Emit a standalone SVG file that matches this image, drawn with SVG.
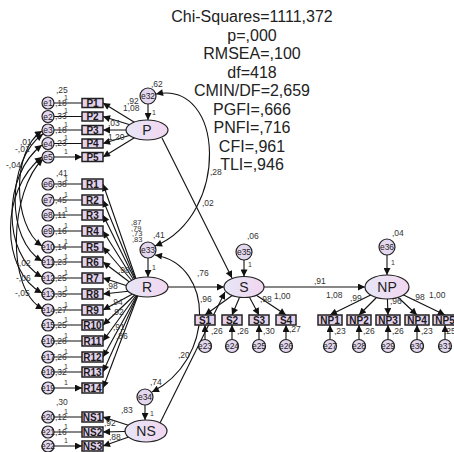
<svg xmlns="http://www.w3.org/2000/svg" width="454" height="452" viewBox="0 0 454 452">
<defs>
<linearGradient id="lg" x1="0" y1="0" x2="1" y2="0"><stop offset="0" stop-color="#e6e6f6"/><stop offset="1" stop-color="#f2d6f0"/></linearGradient>
<marker id="ah" viewBox="0 0 10 10" refX="10" refY="5" markerWidth="9" markerHeight="7" markerUnits="userSpaceOnUse" orient="auto-start-reverse"><path d="M0,0 L10,5 L0,10 z" fill="#111"/></marker>
</defs>
<style>
text{font-family:"Liberation Sans",Arial,sans-serif}
.t{font-size:16px;text-anchor:middle;fill:#222}
.lb{font-size:8.5px;fill:#333}
.sm{font-size:7.5px}
.bx{fill:#e4d2ec;stroke:#222;stroke-width:1.5}
.bt{font-size:10px;font-weight:bold;text-anchor:middle;fill:#1a1a1a}
.ec{fill:#e4d8f0;stroke:#222;stroke-width:1.2}
.et{font-size:8.5px;text-anchor:middle;fill:#222}
.lv{fill:url(#lg);stroke:#222;stroke-width:1.2}
.lt{font-size:14px;text-anchor:middle;fill:#222}
.c{stroke:#111;stroke-width:1.1;fill:none}
.a{marker-end:url(#ah)}
.d{marker-start:url(#ah);marker-end:url(#ah)}
</style>
<rect width="454" height="452" fill="#fff"/>
<g id="title">
<text class="t" x="252" y="22">Chi-Squares=1111,372</text>
<text class="t" x="252" y="40.5">p=,000</text>
<text class="t" x="252" y="59">RMSEA=,100</text>
<text class="t" x="252" y="77.5">df=418</text>
<text class="t" x="252" y="96">CMIN/DF=2,659</text>
<text class="t" x="252" y="114.5">PGFI=,666</text>
<text class="t" x="252" y="133">PNFI=,716</text>
<text class="t" x="252" y="151.5">CFI=,961</text>
<text class="t" x="252" y="170">TLI=,946</text>
</g>
<g id="connectors">
<path class="c a" d="M54,103H82M54,116.5H82M54,130H82M54,143.5H82M54,157H82"/>
<path class="c a" d="M54,184H82M54,200H82M54,215H82M54,231H82M54,247H82M54,262H82M54,278H82M54,294H82M54,310H82M54,325H82M54,341H82M54,357H82M54,372H82M54,388H82"/>
<path class="c a" d="M54,417H82M54,432H82M54,446H82"/>
<path class="c a" d="M147,130L103,103"/><path class="c a" d="M147,130L103,116.5"/><path class="c a" d="M147,130L103,130"/><path class="c a" d="M147,130L103,143.5"/><path class="c a" d="M147,130L103,157"/>
<path class="c a" d="M140,290L103,184"/><path class="c a" d="M140,290L103,200"/><path class="c a" d="M140,290L103,215"/><path class="c a" d="M140,290L103,231"/><path class="c a" d="M140,290L103,247"/><path class="c a" d="M140,290L103,262"/><path class="c a" d="M140,290L103,278"/><path class="c a" d="M140,290L103,294"/><path class="c a" d="M140,290L103,310"/><path class="c a" d="M140,290L103,325"/><path class="c a" d="M140,290L103,341"/><path class="c a" d="M140,290L103,357"/><path class="c a" d="M140,290L103,372"/><path class="c a" d="M140,290L103,388"/>
<path class="c a" d="M146,431L103,417"/><path class="c a" d="M146,431L103,432"/><path class="c a" d="M146,431L103,446"/>
<path class="c a" d="M148,104V120"/><path class="c a" d="M148,258V277"/><path class="c a" d="M145,405V420"/><path class="c a" d="M244,260V276.5"/><path class="c a" d="M387,255V275"/>
<path class="c a" d="M162,138L232,278"/>
<path class="c a" d="M168,287H224"/>
<path class="c a" d="M160,423L225,292"/>
<path class="c a" d="M264,287H365"/>
<path class="c a" d="M244,287L205,315"/><path class="c a" d="M244,287L232,315"/><path class="c a" d="M244,287L259,315"/><path class="c a" d="M244,287L286,315"/>
<path class="c a" d="M205,339.5V325"/><path class="c a" d="M232,339.5V325"/><path class="c a" d="M259,339.5V325"/><path class="c a" d="M286,339.5V325"/>
<path class="c a" d="M387,287L330,315"/><path class="c a" d="M387,287L359,315"/><path class="c a" d="M387,287L388,315"/><path class="c a" d="M387,287L417,315"/><path class="c a" d="M387,287L445,315"/>
<path class="c a" d="M330,339.5V325"/><path class="c a" d="M359,339.5V325"/><path class="c a" d="M388,339.5V325"/><path class="c a" d="M417,339.5V325"/><path class="c a" d="M445,339.5V325"/>
<path class="c d" d="M156,94C225,80 230,215 155,246"/>
<path class="c d" d="M155,255C215,265 215,360 152,392"/>
<path class="c d" d="M42,131C12,150 12,225 42,246"/>
<path class="c d" d="M43,134C6,160 6,240 42,261"/>
<path class="c d" d="M42,145C2,175 2,255 42,277"/>
<path class="c d" d="M42,157C0,190 0,270 42,293"/>
<path class="c d" d="M43,159C10,190 5,290 43,309"/>
</g>
<g id="labels" class="lb">
<text x="210" y="175">,28</text><text x="202" y="206">,02</text><text x="197" y="276">,76</text><text x="178" y="358">,20</text>
<text x="151" y="87">,62</text><text x="153" y="238">,41</text><text x="150" y="385">,74</text><text x="247" y="239">,06</text><text x="392" y="236">,04</text>
<text x="314" y="284">,91</text>
<text x="200" y="302">,96</text><text x="260" y="302">,98</text><text x="274" y="299">1,00</text>
<text x="211" y="334">,26</text><text x="237" y="334">,26</text><text x="263" y="334">,30</text><text x="289" y="332">,27</text>
<text x="326" y="298">1,08</text><text x="350" y="301">,99</text><text x="390" y="304">,96</text><text x="413" y="300">,98</text><text x="429" y="298">1,00</text>
<text x="334" y="334">,23</text><text x="363" y="334">,26</text><text x="392" y="334">,26</text><text x="421" y="334">,23</text><text x="444" y="334">,25</text>
<text x="127" y="104">,92</text><text x="123" y="111">1,08</text><text x="108" y="126">,03</text><text x="108" y="140">1,20</text>
<g class="sm"><text x="131" y="225">,87</text><text x="131" y="230.5">,79</text><text x="132" y="236">,73</text><text x="132" y="241.5">,83</text></g>
<text x="118" y="273">,98</text><text x="106" y="289">,98</text>
<text x="111" y="305">,94</text><text x="112" y="315">,92</text><text x="113" y="330">,91</text><text x="116" y="339">,86</text>
<text x="121" y="413">,83</text><text x="104" y="426">,92</text><text x="109" y="440">,88</text>
<text x="56" y="93">,25</text><text x="56" y="176">,41</text><text x="56" y="405">,30</text>
<text x="20" y="145">,01</text><text x="15" y="152">-,01</text><text x="6" y="168">-,04</text>
<text x="16" y="266">-,02</text><text x="16" y="281">-,06</text><text x="15" y="296">-,05</text>
<g font-size="7">
<text x="64" y="100">1</text><text x="64" y="113">1</text><text x="64" y="127">1</text><text x="64" y="140">1</text><text x="64" y="154">1</text>
<text x="64" y="181">1</text><text x="64" y="197">1</text><text x="64" y="212">1</text><text x="64" y="228">1</text><text x="64" y="244">1</text><text x="64" y="259">1</text><text x="64" y="275">1</text><text x="64" y="291">1</text><text x="64" y="307">1</text><text x="64" y="322">1</text><text x="64" y="338">1</text><text x="64" y="354">1</text><text x="64" y="369">1</text><text x="64" y="385">1</text>
<text x="64" y="414">1</text><text x="64" y="429">1</text><text x="64" y="443">1</text>
<text x="152" y="115">1</text><text x="152" y="270">1</text><text x="150" y="416">1</text><text x="248" y="267">1</text><text x="391" y="265">1</text>
</g>
<text x="55" y="106">,18</text><text x="55" y="119">,33</text><text x="55" y="133">,18</text><text x="55" y="146">,23</text>
<text x="55" y="187">,38</text><text x="55" y="203">,45</text><text x="55" y="218">,11</text><text x="55" y="234">,16</text><text x="55" y="250">,14</text><text x="55" y="265">,23</text><text x="55" y="281">,25</text><text x="55" y="297">,35</text><text x="55" y="313">,27</text><text x="55" y="328">,25</text><text x="55" y="344">,28</text><text x="55" y="360">,26</text><text x="55" y="375">,32</text>
<text x="55" y="420">,12</text><text x="55" y="435">,16</text>
</g>
<g id="e1"><circle class="ec" cx="48" cy="103" r="6"/><text class="et" x="48" y="106">e1</text></g>
<g id="e2"><circle class="ec" cx="48" cy="116.5" r="6"/><text class="et" x="48" y="119.5">e2</text></g>
<g id="e3"><circle class="ec" cx="48" cy="130" r="6"/><text class="et" x="48" y="133">e3</text></g>
<g id="e4"><circle class="ec" cx="48" cy="143.5" r="6"/><text class="et" x="48" y="146.5">e4</text></g>
<g id="e5"><circle class="ec" cx="48" cy="157" r="6"/><text class="et" x="48" y="160">e5</text></g>
<g id="e6"><circle class="ec" cx="48" cy="184" r="6"/><text class="et" x="48" y="187">e6</text></g>
<g id="e7"><circle class="ec" cx="48" cy="200" r="6"/><text class="et" x="48" y="203">e7</text></g>
<g id="e8"><circle class="ec" cx="48" cy="215" r="6"/><text class="et" x="48" y="218">e8</text></g>
<g id="e9"><circle class="ec" cx="48" cy="231" r="6"/><text class="et" x="48" y="234">e9</text></g>
<g id="e10"><circle class="ec" cx="48" cy="247" r="6"/><text class="et" x="48" y="250">e10</text></g>
<g id="e11"><circle class="ec" cx="48" cy="262" r="6"/><text class="et" x="48" y="265">e11</text></g>
<g id="e12"><circle class="ec" cx="48" cy="278" r="6"/><text class="et" x="48" y="281">e12</text></g>
<g id="e13"><circle class="ec" cx="48" cy="294" r="6"/><text class="et" x="48" y="297">e13</text></g>
<g id="e14"><circle class="ec" cx="48" cy="310" r="6"/><text class="et" x="48" y="313">e14</text></g>
<g id="e15"><circle class="ec" cx="48" cy="325" r="6"/><text class="et" x="48" y="328">e15</text></g>
<g id="e16"><circle class="ec" cx="48" cy="341" r="6"/><text class="et" x="48" y="344">e16</text></g>
<g id="e17"><circle class="ec" cx="48" cy="357" r="6"/><text class="et" x="48" y="360">e17</text></g>
<g id="e18"><circle class="ec" cx="48" cy="372" r="6"/><text class="et" x="48" y="375">e18</text></g>
<g id="e19"><circle class="ec" cx="48" cy="388" r="6"/><text class="et" x="48" y="391">e19</text></g>
<g id="e20"><circle class="ec" cx="48" cy="417" r="6"/><text class="et" x="48" y="420">e20</text></g>
<g id="e21"><circle class="ec" cx="48" cy="432" r="6"/><text class="et" x="48" y="435">e21</text></g>
<g id="e22"><circle class="ec" cx="48" cy="446" r="6"/><text class="et" x="48" y="449">e22</text></g>
<g id="P1"><rect class="bx" x="82" y="98.5" width="21" height="9"/><text class="bt" x="92.5" y="106.5">P1</text></g>
<g id="P2"><rect class="bx" x="82" y="112" width="21" height="9"/><text class="bt" x="92.5" y="120">P2</text></g>
<g id="P3"><rect class="bx" x="82" y="125.5" width="21" height="9"/><text class="bt" x="92.5" y="133.5">P3</text></g>
<g id="P4"><rect class="bx" x="82" y="139" width="21" height="9"/><text class="bt" x="92.5" y="147">P4</text></g>
<g id="P5"><rect class="bx" x="82" y="152.5" width="21" height="9"/><text class="bt" x="92.5" y="160.5">P5</text></g>
<g id="R1"><rect class="bx" x="82" y="179" width="21" height="10"/><text class="bt" x="92.5" y="187.5">R1</text></g>
<g id="R2"><rect class="bx" x="82" y="195" width="21" height="10"/><text class="bt" x="92.5" y="203.5">R2</text></g>
<g id="R3"><rect class="bx" x="82" y="210" width="21" height="10"/><text class="bt" x="92.5" y="218.5">R3</text></g>
<g id="R4"><rect class="bx" x="82" y="226" width="21" height="10"/><text class="bt" x="92.5" y="234.5">R4</text></g>
<g id="R5"><rect class="bx" x="82" y="242" width="21" height="10"/><text class="bt" x="92.5" y="250.5">R5</text></g>
<g id="R6"><rect class="bx" x="82" y="257" width="21" height="10"/><text class="bt" x="92.5" y="265.5">R6</text></g>
<g id="R7"><rect class="bx" x="82" y="273" width="21" height="10"/><text class="bt" x="92.5" y="281.5">R7</text></g>
<g id="R8"><rect class="bx" x="82" y="289" width="21" height="10"/><text class="bt" x="92.5" y="297.5">R8</text></g>
<g id="R9"><rect class="bx" x="82" y="305" width="21" height="10"/><text class="bt" x="92.5" y="313.5">R9</text></g>
<g id="R10"><rect class="bx" x="82" y="320" width="21" height="10"/><text class="bt" x="92.5" y="328.5">R10</text></g>
<g id="R11"><rect class="bx" x="82" y="336" width="21" height="10"/><text class="bt" x="92.5" y="344.5">R11</text></g>
<g id="R12"><rect class="bx" x="82" y="352" width="21" height="10"/><text class="bt" x="92.5" y="360.5">R12</text></g>
<g id="R13"><rect class="bx" x="82" y="367" width="21" height="10"/><text class="bt" x="92.5" y="375.5">R13</text></g>
<g id="R14"><rect class="bx" x="82" y="383" width="21" height="10"/><text class="bt" x="92.5" y="391.5">R14</text></g>
<g id="NS1"><rect class="bx" x="82" y="412" width="21" height="10"/><text class="bt" x="92.5" y="420.5">NS1</text></g>
<g id="NS2"><rect class="bx" x="82" y="427" width="21" height="10"/><text class="bt" x="92.5" y="435.5">NS2</text></g>
<g id="NS3"><rect class="bx" x="82" y="441" width="21" height="10"/><text class="bt" x="92.5" y="449.5">NS3</text></g>
<g id="P"><ellipse class="lv" cx="147" cy="130" rx="21" ry="10"/><text class="lt" x="147" y="135">P</text></g>
<g id="R"><ellipse class="lv" cx="147" cy="287" rx="21" ry="10"/><text class="lt" x="147" y="292">R</text></g>
<g id="NS"><ellipse class="lv" cx="146" cy="431" rx="21" ry="11"/><text class="lt" x="146" y="436">NS</text></g>
<g id="S"><ellipse class="lv" cx="244" cy="287" rx="20" ry="10.5"/><text class="lt" x="244" y="292">S</text></g>
<g id="NP"><ellipse class="lv" cx="387" cy="287" rx="22" ry="12"/><text class="lt" x="387" y="292">NP</text></g>
<g id="e32"><circle class="ec" cx="148" cy="96" r="8"/><text class="et" x="148" y="99">e32</text></g>
<g id="e33"><circle class="ec" cx="148" cy="250" r="8"/><text class="et" x="148" y="253">e33</text></g>
<g id="e34"><circle class="ec" cx="145" cy="397" r="8"/><text class="et" x="145" y="400">e34</text></g>
<g id="e35"><circle class="ec" cx="244" cy="252" r="8"/><text class="et" x="244" y="255">e35</text></g>
<g id="e36"><circle class="ec" cx="387" cy="247" r="8"/><text class="et" x="387" y="250">e36</text></g>
<g id="S1"><rect class="bx" x="195" y="315" width="20" height="10"/><text class="bt" x="205" y="323.5">S1</text></g>
<g id="S2"><rect class="bx" x="222" y="315" width="20" height="10"/><text class="bt" x="232" y="323.5">S2</text></g>
<g id="S3"><rect class="bx" x="249" y="315" width="20" height="10"/><text class="bt" x="259" y="323.5">S3</text></g>
<g id="S4"><rect class="bx" x="276" y="315" width="20" height="10"/><text class="bt" x="286" y="323.5">S4</text></g>
<g id="e23"><circle class="ec" cx="205" cy="346" r="6.5"/><text class="et" x="205" y="349">e23</text></g>
<g id="e24"><circle class="ec" cx="232" cy="346" r="6.5"/><text class="et" x="232" y="349">e24</text></g>
<g id="e25"><circle class="ec" cx="259" cy="346" r="6.5"/><text class="et" x="259" y="349">e25</text></g>
<g id="e26"><circle class="ec" cx="286" cy="346" r="6.5"/><text class="et" x="286" y="349">e26</text></g>
<g id="NP1"><rect class="bx" x="318" y="315" width="24" height="10"/><text class="bt" x="330" y="323.5">NP1</text></g>
<g id="NP2"><rect class="bx" x="347" y="315" width="24" height="10"/><text class="bt" x="359" y="323.5">NP2</text></g>
<g id="NP3"><rect class="bx" x="376" y="315" width="24" height="10"/><text class="bt" x="388" y="323.5">NP3</text></g>
<g id="NP4"><rect class="bx" x="405" y="315" width="24" height="10"/><text class="bt" x="417" y="323.5">NP4</text></g>
<g id="NP5"><rect class="bx" x="433" y="315" width="24" height="10"/><text class="bt" x="445" y="323.5">NP5</text></g>
<g id="e27"><circle class="ec" cx="330" cy="346" r="6.5"/><text class="et" x="330" y="349">e27</text></g>
<g id="e28"><circle class="ec" cx="359" cy="346" r="6.5"/><text class="et" x="359" y="349">e28</text></g>
<g id="e29"><circle class="ec" cx="388" cy="346" r="6.5"/><text class="et" x="388" y="349">e29</text></g>
<g id="e30"><circle class="ec" cx="417" cy="346" r="6.5"/><text class="et" x="417" y="349">e30</text></g>
<g id="e31"><circle class="ec" cx="445" cy="346" r="6.5"/><text class="et" x="445" y="349">e31</text></g>
</svg>
